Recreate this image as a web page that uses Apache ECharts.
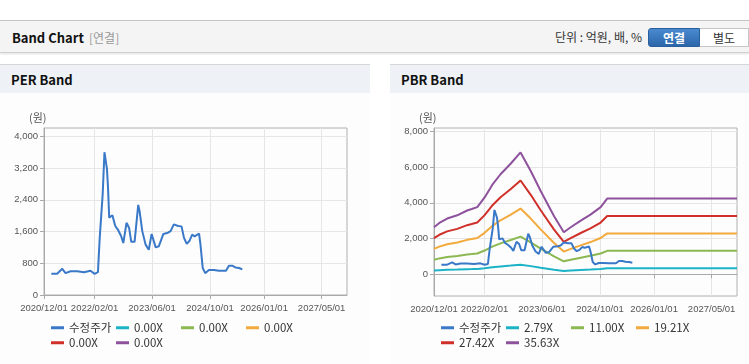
<!DOCTYPE html>
<html><head><meta charset="utf-8">
<script src="https://cdn.jsdelivr.net/npm/echarts@6/dist/echarts.min.js"></script>
<style>
html,body{margin:0;padding:0;width:749px;height:364px;overflow:hidden;background:#fff;font-family:'Noto Sans CJK KR','Noto Sans',sans-serif;}
.abs{position:absolute;}
#hdr{left:0;top:20px;width:749px;height:31px;background:#f4f4f4;border-top:1px solid #c4c4c4;border-bottom:1px solid #d0d0d0;box-shadow:0 1px 2px rgba(0,0,0,.12);}
#hdrTitle{left:12px;top:28px;font-size:13px;font-weight:bold;color:#111;line-height:20px;}
#hdrSub{left:89px;top:28px;font-size:12px;color:#999;line-height:20px;}
#unit{right:107px;top:27px;font-size:12px;color:#333;line-height:20px;}
#btn1{left:648px;top:28px;width:52px;height:19px;background:linear-gradient(#4a8ad0,#2c66aa);border:1px solid #2a5f9e;box-sizing:border-box;border-radius:3px 0 0 3px;color:#fff;font-size:12px;font-weight:bold;text-align:center;line-height:17px;}
#btn2{left:700px;top:28px;width:49px;height:19px;background:#fff;border:1px solid #c6c6c6;border-left:none;box-sizing:border-box;color:#333;font-size:12px;text-align:center;line-height:17px;}
.panel{top:64px;height:299px;background:#fdfdfd;border-top:1px solid #d6d6d6;border-bottom:1px solid #d6d6d6;}
.ptitle{left:0;top:0;right:0;height:28px;background:#eef2f7;}
.ptitle span{position:absolute;left:11px;top:5px;font-size:13px;font-weight:bold;color:#111;line-height:20px;}
#chart{left:0;top:0;width:749px;height:364px;}
</style></head>
<body>
<div id="hdr" class="abs"></div>
<div id="hdrTitle" class="abs">Band Chart</div>
<div id="hdrSub" class="abs">[연결]</div>
<div id="unit" class="abs">단위 : 억원, 배, %</div>
<div id="btn1" class="abs">연결</div>
<div id="btn2" class="abs">별도</div>
<div class="abs panel" style="left:0;width:370px;"><div class="ptitle abs"><span>PER Band</span></div></div>
<div class="abs panel" style="left:390px;width:359px;"><div class="ptitle abs"><span style="left:11px">PBR Band</span></div></div>
<div id="chart" class="abs"></div>
<script>
// ---------- data ----------
const xTickLabels = ['2020/12/01','2022/02/01','2023/06/01','2024/10/01','2026/01/01','2027/05/01'];
const xRange = ['2020/12/01','2027/12/01'];
const perTicks = [0,800,1600,2400,3200,4000];
const pbrTicks = [0,2000,4000,6000,8000];

const priceDates = ['2021-02-01','2021-03-22','2021-05-04','2021-06-01','2021-07-13','2021-09-07','2021-11-04','2021-12-28',
 '2022-02-01','2022-03-01','2022-03-16','2022-04-10','2022-04-25','2022-05-07','2022-05-16','2022-05-25','2022-06-04',
 '2022-07-01','2022-07-25','2022-08-16','2022-09-13','2022-10-01','2022-10-28','2022-11-19','2022-12-07',
 '2023-01-04','2023-02-04','2023-02-15','2023-03-10','2023-04-07','2023-05-04','2023-05-28','2023-07-01','2023-07-28',
 '2023-09-04','2023-10-13','2023-11-04','2023-12-01','2024-01-07','2024-02-04','2024-02-25','2024-03-19','2024-04-10',
 '2024-05-04','2024-05-25','2024-07-01','2024-07-13','2024-08-01','2024-08-22','2024-09-22','2024-11-04','2024-12-16',
 '2025-02-13','2025-03-10','2025-04-07','2025-05-04','2025-06-04','2025-07-01'];
const priceValues = [534,534,660,550,600,600,575,610,
 534,575,1440,2540,3600,3560,3180,2710,1950,
 2010,1740,1650,1480,1310,1820,1690,1340,
 1340,2270,2120,1610,1270,1140,1540,1200,1230,
 1540,1570,1610,1780,1740,1730,1440,1290,1360,
 1520,1480,1550,1270,680,550,630,630,610,
 610,740,740,695,680,645];

const bandDates = ['2020-12-01','2021-01-15','2021-03-22','2021-06-15','2021-09-07','2021-10-15','2021-12-01',
 '2022-02-01','2022-04-06','2022-06-15','2022-09-10','2022-12-01','2023-02-25','2023-05-20','2023-09-10','2023-12-01',
 '2024-01-28','2024-04-22','2024-07-13','2024-10-07','2024-12-01','2027-12-01'];
const band279  = [206,225,244,258,280,286,294,337,392,438,485,534,453,365,254,184,206,235,262,294,332,332];
const band1100 = [812,886,963,1019,1102,1127,1161,1327,1544,1729,1914,2105,1784,1439,1003,725,812,926,1031,1161,1309,1309];
const band1921 = [1418,1548,1682,1779,1925,1968,2027,2319,2696,3020,3343,3677,3117,2513,1752,1267,1418,1618,1801,2027,2286,2286];
const band2742 = [2024,2209,2401,2540,2747,2809,2894,3309,3848,4310,4772,5249,4448,3586,2501,1809,2024,2309,2570,2894,3263,3263];
const band3563 = [2630,2870,3120,3300,3570,3650,3760,4300,5000,5600,6200,6820,5780,4660,3250,2350,2630,3000,3340,3760,4240,4240];

const perNames = ['수정주가','0.00X','0.00X','0.00X','0.00X','0.00X'];
const pbrNames = ['수정주가','2.79X','11.00X','19.21X','27.42X','35.63X'];
const colors = ['#3a78c8','#1db3c7','#8cb852','#f2aa3c','#cf3029','#8e529c'];

// ---------- helpers ----------
function ts(s){const p=s.split(/[-\/]/).map(Number);return new Date(p[0],p[1]-1,p[2]).getTime();}
function pairs(d,v){const n=Math.min(d.length,v.length),o=[];for(let i=0;i<n;i++)o.push([ts(d[i]),v[i]]);return o;}
const xTickVals = xTickLabels.map(ts);
const labelMap = {}; xTickLabels.forEach((l,i)=>labelMap[xTickVals[i]]=l);
// spacer value right after the first label so the min-label overlap check hides the spacer, not a real label
const xLabelVals = [xTickVals[0], xTickVals[0]+1].concat(xTickVals.slice(1));
const fmtNum = v => String(v).replace(/\B(?=(\d{3})+(?!\d))/g, ',');
const axisFont = "'Liberation Sans',Arial,sans-serif";
const gridPos = [{left:44,top:128,width:303,height:167},{left:434,top:128,width:303,height:168}];

function xAxis(i){return {type:'value',gridIndex:i,min:ts(xRange[0]),max:ts(xRange[1]),
  axisLine:{lineStyle:{color:'#a9a9a9'}},
  axisTick:{customValues:xTickVals,length:4,lineStyle:{color:'#a9a9a9'}},
  axisLabel:{customValues:xLabelVals,formatter:v=>labelMap[v]||' ',showMinLabel:true,showMaxLabel:true,hideOverlap:false,
    fontSize:9.5,color:'#555',fontFamily:axisFont,margin:8},
  splitLine:{show:true,lineStyle:{color:'#e6e6e6'}}};}
function yAxis(i,min,max,ticks){return {type:'value',gridIndex:i,min:min,max:max,
  axisLine:{show:true,lineStyle:{color:'#a9a9a9'}},
  axisTick:{show:true,customValues:ticks,length:4,lineStyle:{color:'#a9a9a9'}},
  axisLabel:{customValues:ticks,formatter:fmtNum,showMinLabel:true,fontSize:9.5,color:'#555',fontFamily:axisFont,margin:6},
  splitLine:{show:true,lineStyle:{color:'#e6e6e6'}}};}

const series = [];
// PER
series.push({name:perNames[0],type:'line',xAxisIndex:0,yAxisIndex:0,data:pairs(priceDates,priceValues),
  showSymbol:false,z:5,lineStyle:{width:2,color:colors[0]},itemStyle:{color:colors[0]}});
for(let k=1;k<6;k++) series.push({name:perNames[k],type:'line',xAxisIndex:0,yAxisIndex:0,data:[],
  showSymbol:false,lineStyle:{width:2,color:colors[k]},itemStyle:{color:colors[k]}});
// PBR
const bands=[band279,band1100,band1921,band2742,band3563];
series.push({name:pbrNames[0],type:'line',xAxisIndex:1,yAxisIndex:1,data:pairs(priceDates,priceValues),
  showSymbol:false,z:5,lineStyle:{width:2,color:colors[0]},itemStyle:{color:colors[0]}});
bands.forEach((b,k)=>series.push({name:pbrNames[k+1],type:'line',xAxisIndex:1,yAxisIndex:1,data:pairs(bandDates,b),
  showSymbol:false,z:3,lineStyle:{width:2,color:colors[k+1]},itemStyle:{color:colors[k+1]}}));

// legends: one per item, fixed columns
const legends=[];
function addLegends(names,x0){
  names.forEach((n,k)=>{
    const col=k%4,row=Math.floor(k/4);
    legends.push({show:true,left:x0+col*65-1,top:322+row*15,padding:0,itemWidth:13,itemHeight:3,icon:'rect',
      selectedMode:false,textStyle:{fontSize:11.5,color:'#333',fontFamily:"'Noto Sans CJK KR',sans-serif"},
      data:[{name:n,itemStyle:{color:colors[k]}}]});
  });
}
addLegends(perNames,52);
addLegends(pbrNames,442);

const chart = echarts.init(document.getElementById('chart'),null,{renderer:'canvas'});
chart.setOption({
  animation:false,
  backgroundColor:'transparent',
  grid:gridPos.map(g=>Object.assign({show:true,borderColor:'#b0b0b0',borderWidth:1,backgroundColor:'transparent'},g)),
  xAxis:[xAxis(0),xAxis(1)],
  yAxis:[yAxis(0,0,4210,perTicks),yAxis(1,-1220,8190,pbrTicks)],
  legend:legends,
  graphic:[
    {type:'text',left:29,top:112,style:{text:'(원)',fontSize:11,fill:'#555',fontFamily:"'Noto Sans CJK KR',sans-serif"}},
    {type:'text',left:419,top:112,style:{text:'(원)',fontSize:11,fill:'#555',fontFamily:"'Noto Sans CJK KR',sans-serif"}}
  ],
  series:series
});
</script>
</body></html>
